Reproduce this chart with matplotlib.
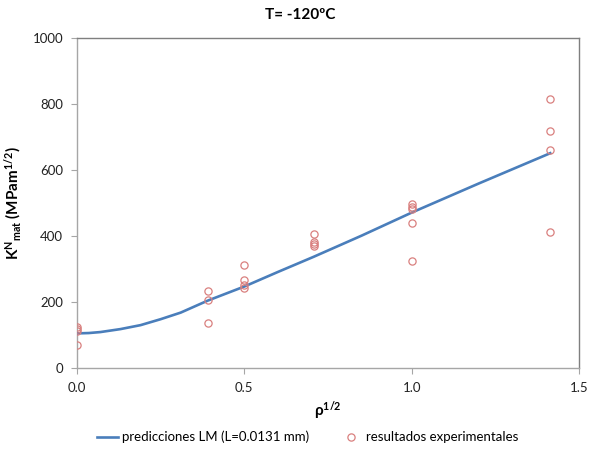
import matplotlib
matplotlib.use("Agg")
import matplotlib.pyplot as plt

plt.rcParams['font.family'] = ['Lato', 'DejaVu Sans']
plt.rcParams['mathtext.fontset'] = 'custom'
plt.rcParams['mathtext.rm'] = 'Lato'
plt.rcParams['mathtext.it'] = 'Lato'
plt.rcParams['mathtext.bf'] = 'Lato:bold'

# Predicted curve (LM)
curve_x = [0.0, 0.035, 0.07, 0.13, 0.19, 0.25, 0.31, 0.39, 0.5, 0.6, 0.707, 0.85, 1.0, 1.2, 1.414]
curve_y = [104, 105, 108, 117, 129, 147, 167, 203, 246, 290, 336, 400, 470, 558, 650]

# Experimental results
exp_x = [0.0, 0.0, 0.0, 0.0,
         0.39, 0.39, 0.39,
         0.5, 0.5, 0.5, 0.5,
         0.707, 0.707, 0.707, 0.707,
         1.0, 1.0, 1.0, 1.0, 1.0,
         1.414, 1.414, 1.414, 1.414]
exp_y = [124, 116, 111, 70,
         233, 204, 136,
         311, 266, 250, 242,
         405, 381, 376, 370,
         496, 488, 480, 438, 323,
         814, 718, 660, 412]

x_ticks = [0.0, 0.5, 1.0, 1.5]
x_tick_labels = ["0.0", "0.5", "1.0", "1.5"]
y_ticks = [0, 200, 400, 600, 800, 1000]

fig = plt.figure(figsize=(5.89, 4.5), dpi=100)
ax = fig.add_axes([77/589, 1 - 367.7/450, (579 - 77)/589, (367.7 - 37.7)/450])

ax.plot(curve_x, curve_y, color='#4a7ebb', lw=1.9,
        label='predicciones LM (L=0.0131 mm)', zorder=3)
ax.plot(exp_x, exp_y, linestyle='none', marker='o', markersize=5.2,
        markerfacecolor='none', markeredgecolor='#d9807f', markeredgewidth=0.9,
        label='resultados experimentales', zorder=4)

ax.set_xlim(0, 1.5)
ax.set_ylim(0, 1000)
ax.set_xticks(x_ticks)
ax.set_xticklabels(x_tick_labels)
ax.set_yticks(y_ticks)
ax.tick_params(axis='both', direction='out', length=4, width=0.8,
               color='#a6a6a6', labelsize=9.5, labelcolor='#222222', pad=6)

for s in ['left', 'bottom']:
    ax.spines[s].set_color('#a6a6a6')
    ax.spines[s].set_linewidth(1.0)
for s in ['top', 'right']:
    ax.spines[s].set_color('#7f7f7f')
    ax.spines[s].set_linewidth(1.0)

ax.set_xlabel(r'$\mathbf{\rho}^{\mathbf{1/2}}$', fontsize=11, fontweight='bold', labelpad=4)
ax.set_ylabel(r'K$^{\mathbf{N}}$$_{\mathbf{mat}}$ (MPam$^{\mathbf{1/2}}$)',
              fontsize=11, fontweight='bold', labelpad=6)

fig.text(0.509, 1 - 15/450, 'T= -120ºC', ha='center', va='center',
         fontsize=11, fontweight='bold')

fig.legend(loc='center', bbox_to_anchor=(0.522, 1 - 437/450), ncol=2,
           frameon=False, fontsize=9.5, handlelength=1.6, columnspacing=2.4,
           handletextpad=0.3)

fig.savefig('out.png', dpi=100)
